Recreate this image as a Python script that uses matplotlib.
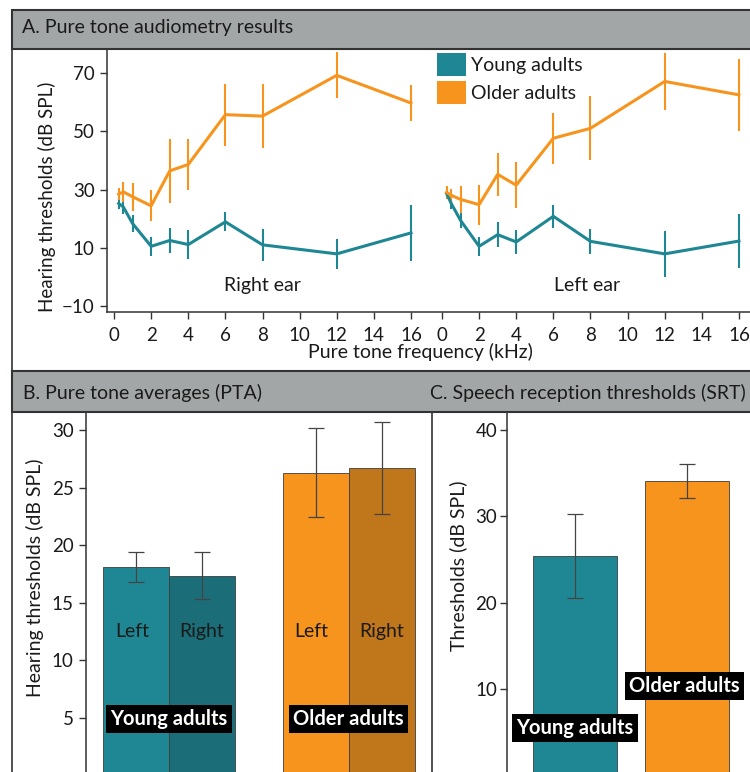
import matplotlib
matplotlib.use("Agg")
import matplotlib.pyplot as plt
from matplotlib.patches import Rectangle, Patch
from matplotlib.lines import Line2D

plt.rcParams['font.family'] = ['Lato', 'DejaVu Sans']

# Data
freqs = [0.25, 0.5, 1, 2, 3, 4, 6, 8, 12, 16]
young_right = [25.2, 24.0, 18.3, 10.5, 12.5, 11.1, 18.9, 11.0, 7.9, 15.1]
young_right_err = [2.0, 2.3, 2.8, 3.2, 4.2, 4.9, 3.3, 5.4, 5.2, 9.5]
older_right = [28.4, 29.2, 27.5, 24.4, 36.4, 38.6, 55.7, 55.2, 69.2, 59.7]
older_right_err = [2.0, 3.5, 4.8, 5.3, 11.0, 8.9, 10.6, 11.0, 7.9, 6.2]
young_left = [28.6, 25.2, 19.4, 10.5, 14.5, 12.0, 20.8, 12.2, 7.9, 12.3]
young_left_err = [2.0, 2.0, 2.5, 3.3, 4.4, 4.0, 3.9, 4.3, 7.9, 9.3]
older_left = [29.0, 28.0, 26.6, 24.8, 35.2, 31.5, 47.6, 51.0, 67.1, 62.5]
older_left_err = [2.3, 2.3, 4.6, 6.9, 7.4, 8.0, 8.7, 11.0, 9.7, 12.3]

groups = ['Young adults', 'Older adults']
pta_left = [18.1, 26.3]
pta_left_err = [1.3, 3.85]
pta_right = [17.35, 26.7]
pta_right_err = [2.05, 4.0]

srt = [25.45, 34.1]
srt_err = [4.85, 2.0]

# colours
TEAL = '#1f8794'
TEAL_D = '#1b6e78'
ORANGE = '#f7941d'
ORANGE_D = '#c0761a'
HEAD = '#a3a6a6'
EDGE = '#333333'
INK = '#1a1a1a'

W, H = 750, 772
fig = plt.figure(figsize=(W / 100, H / 100), dpi=100)


def px_axes(x0, y0, x1, y1):
    ax = fig.add_axes([x0 / W, 1 - y1 / H, (x1 - x0) / W, (y1 - y0) / H])
    ax.set_facecolor('none')
    return ax


def px_rect(x0, y0, x1, y1, **kw):
    r = Rectangle((x0 / W, 1 - y1 / H), (x1 - x0) / W, (y1 - y0) / H,
                  transform=fig.transFigure, **kw)
    fig.add_artist(r)


def px_text(x, y, s, **kw):
    fig.text(x / W, 1 - y / H, s, **kw)


def style_axis(ax, pad=3):
    ax.spines['top'].set_visible(False)
    ax.spines['right'].set_visible(False)
    for s in ('left', 'bottom'):
        ax.spines[s].set_color(EDGE)
        ax.spines[s].set_linewidth(1.1)
    ax.tick_params(colors=EDGE, labelcolor=INK, labelsize=13.5,
                   length=5, width=1, pad=pad)


# panel frames and headers
px_rect(12, 10, 770, 371, fc='none', ec=EDGE, lw=1.2)
px_rect(12, 10, 770, 49, fc=HEAD, ec=EDGE, lw=1.5)
px_rect(12, 371, 770, 800, fc='none', ec=EDGE, lw=1.2)
px_rect(12, 371, 770, 412, fc=HEAD, ec=EDGE, lw=1.5)
fig.add_artist(Line2D([432 / W, 432 / W], [1 - 412 / H, 0], transform=fig.transFigure,
                      color=EDGE, lw=1.2))

px_text(22, 28, 'A. Pure tone audiometry results', fontsize=14, va='center', color=INK)
px_text(23, 393, 'B. Pure tone averages (PTA)', fontsize=14, va='center', color=INK)
px_text(430, 393, 'C. Speech reception thresholds (SRT)', fontsize=14, va='center', color=INK)

# ---- Panel A: audiogram, right ear then left ear on one axis
offset = 17.67
axA = px_axes(107, 50, 762, 312)
style_axis(axA, pad=4)
left_x = [f + offset for f in freqs]
for xs, ys, es, c in [(freqs, young_right, young_right_err, TEAL),
                      (freqs, older_right, older_right_err, ORANGE),
                      (left_x, young_left, young_left_err, TEAL),
                      (left_x, older_left, older_left_err, ORANGE)]:
    axA.errorbar(xs, ys, yerr=es, color=c, lw=2.2, elinewidth=1.5, capsize=0)

axA.set_xlim(-0.38, (762 - 114) / 18.56)
axA.set_ylim(-12.06, 77.9)
axA.set_yticks([-10, 10, 30, 50, 70])
ticks = list(range(0, 17, 2))
axA.set_xticks(ticks + [t + offset for t in ticks])
axA.set_xticklabels([str(t) for t in ticks] * 2)
axA.tick_params(axis='x', pad=6)
axA.text(8, -3, 'Right ear', fontsize=14, ha='center', va='center', color=INK)
axA.text(offset + 7.8, -3, 'Left ear', fontsize=14, ha='center', va='center', color=INK)

px_text(47, 197, 'Hearing thresholds (dB SPL)', fontsize=13.5, rotation=90,
        ha='center', va='center', color=INK)
px_text(420, 352, 'Pure tone frequency (kHz)', fontsize=14, ha='center', va='center',
        color=INK)

axA.legend(handles=[Patch(fc=TEAL, ec='none', label=groups[0]),
                    Patch(fc=ORANGE, ec='none', label=groups[1])],
           loc='upper left', bbox_to_anchor=(437 / W, 1 - 53 / H),
           bbox_transform=fig.transFigure, frameon=False, fontsize=14,
           borderpad=0, borderaxespad=0, handlelength=1.5, handleheight=1.45,
           handletextpad=0.25, labelspacing=0.25, labelcolor=INK)

# ---- Panel B: pure tone averages
axB = px_axes(86, 412, 432, 775.6)
style_axis(axB, pad=4)
pos_left = [0, 2.72]
pos_right = [1, 3.72]
ekw = dict(ecolor='#444444', elinewidth=0.9, capthick=0.9, capsize=5.8)
for i in range(2):
    fl = [TEAL, ORANGE][i]
    fr = [TEAL_D, ORANGE_D][i]
    axB.bar(pos_left[i], pta_left[i], width=1, color=fl, edgecolor='#3d3d3d', lw=0.6,
            yerr=pta_left_err[i], error_kw=ekw)
    axB.bar(pos_right[i], pta_right[i], width=1, color=fr, edgecolor='#3d3d3d', lw=0.6,
            yerr=pta_right_err[i], error_kw=ekw)
    axB.text(pos_left[i] - 0.06, 12.5, 'Left', fontsize=14, ha='center', va='center',
             color=INK)
    axB.text(pos_right[i], 12.5, 'Right', fontsize=14, ha='center', va='center',
             color=INK)
    axB.text((pos_left[i] + pos_right[i]) / 2, 4.95, groups[i], fontsize=14.5,
             fontweight='bold', color='white', ha='center', va='center',
             bbox=dict(boxstyle='square,pad=0.2', fc='black', ec='none'))
axB.set_xlim(-0.758, 4.485)
axB.set_ylim(0, (775.6 - 412) / 11.52)
axB.set_yticks([5, 10, 15, 20, 25, 30])
axB.set_xticks([])
axB.spines['bottom'].set_visible(False)
px_text(35, 578, 'Hearing thresholds (dB SPL)', fontsize=14, rotation=90,
        ha='center', va='center', color=INK)

# ---- Panel C: speech reception thresholds
axC = px_axes(507, 412, 762, 775.3)
style_axis(axC, pad=2)
pos_c = [0, 1.333]
axC.bar(pos_c, srt, width=1, color=[TEAL, ORANGE], edgecolor='#3d3d3d', lw=0.6,
        yerr=srt_err, error_kw=ekw)
axC.text(pos_c[0], 5.5, groups[0], fontsize=14.5, fontweight='bold', color='white',
         ha='center', va='center', bbox=dict(boxstyle='square,pad=0.2', fc='black', ec='none'))
axC.text(pos_c[1] - 0.03, 10.3, groups[1], fontsize=14.5, fontweight='bold', color='white',
         ha='center', va='center', bbox=dict(boxstyle='square,pad=0.2', fc='black', ec='none'))
axC.set_xlim(-0.81, (762 - 575) / 84)
axC.set_ylim(0, (775.3 - 412) / 8.63)
axC.set_yticks([10, 20, 30, 40])
axC.set_xticks([])
axC.spines['bottom'].set_visible(False)
px_text(458, 566, 'Thresholds (dB SPL)', fontsize=14, rotation=90,
        ha='center', va='center', color=INK)

fig.savefig('out.png', dpi=100)
